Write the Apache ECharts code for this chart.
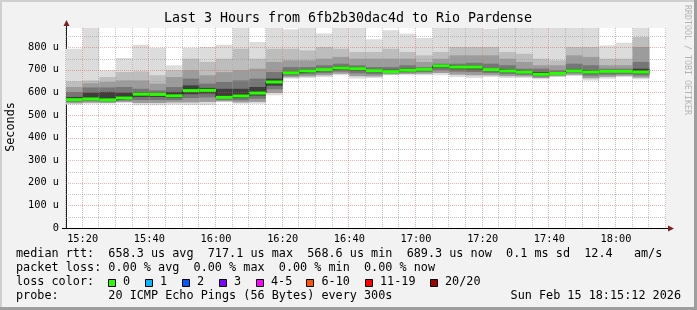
<!DOCTYPE html>
<html><head><meta charset="utf-8">
<script src="https://cdn.jsdelivr.net/npm/echarts@6/dist/echarts.min.js"></script>
<style>html,body{margin:0;padding:0;background:#f2f2f2}#c{width:697px;height:310px}</style>
</head><body><div id="c"></div><script>
// 5-minute slots (start times)
const slots = ['15:15','15:20','15:25','15:30','15:35','15:40','15:45','15:50','15:55','16:00','16:05','16:10','16:15','16:20','16:25','16:30','16:35','16:40','16:45','16:50','16:55','17:00','17:05','17:10','17:15','17:20','17:25','17:30','17:35','17:40','17:45','17:50','17:55','18:00','18:05'];
// values in microseconds
const maxV   = [793,885,698,752,811,796,720,796,801,811,885,823,885,879,885,861,885,885,835,875,860,841,885,885,885,882,885,885,885,885,885,885,808,820,885];
const up1    = [649,653,668,690,693,676,698,749,735,749,793,749,793,793,786,801,793,779,779,793,779,764,779,801,801,801,779,771,749,742,801,801,749,749,845];
const up2    = [624,641,646,653,653,639,668,698,676,690,698,705,735,742,742,749,757,749,749,749,749,735,749,764,764,764,749,735,720,720,764,757,720,720,801];
const up3    = [602,622,622,624,616,609,624,661,639,646,653,661,690,712,712,720,727,720,712,712,720,712,727,727,731,727,720,705,705,698,727,720,705,705,735];
const up4    = [580,599,602,599,600,598,602,631,620,616,616,624,661,695,702,708,715,712,702,700,705,706,722,718,718,708,702,696,690,690,702,698,698,698,705];
const median = [568,571,567,575,592,591,585,608,609,578,584,597,646,687,695,701,708,705,696,692,698,702,717,712,712,701,695,690,680,684,695,690,693,693,690];
const lo3    = [563,566,563,570,580,580,576,592,595,572,575,586,630,681,688,694,701,696,689,689,693,697,708,703,702,694,689,685,675,681,690,683,686,687,683];
const lo2    = [558,561,559,564,566,566,566,575,578,567,565,572,614,674,680,685,692,684,680,685,688,690,698,692,690,686,681,678,670,677,685,674,678,680,675];
const lo1    = [552,555,554,558,553,553,556,556,558,561,556,558,598,667,671,676,683,672,671,680,682,683,686,679,676,676,672,671,664,672,678,663,669,674,666];
const minV   = [546,550,550,553,543,543,546,544,544,557,550,550,587,661,664,668,676,661,664,676,676,676,676,668,664,668,664,664,658,668,672,653,661,668,658];
const xTickLabels = ['15:20','15:40','16:00','16:20','16:40','17:00','17:20','17:40','18:00'];
const yTickLabels = ['0','100 u','200 u','300 u','400 u','500 u','600 u','700 u','800 u'];
const lossLabels = ['0','1','2','3','4-5','6-10','11-19','20/20'];
const lossColors = ['#26ff00','#00b8ff','#0059ff','#7e00ff','#ff00ff','#ff5500','#ff0000','#a10000'];

const SLOT = 5;
const toMin = s => { const [h,m] = s.split(':').map(Number); return (h-15)*60+m; };
const xs = slots.map(toMin);
const FONT = 'DejaVu Sans Mono';
const X_MIN = 15, X_MAX = 195, Y_MAX = 885;

function smokeSeries(lo, hi, color, z){
  return {
    type:'custom', z:z, silent:true, animation:false,
    renderItem:(params, api)=>{
      const x0 = api.value(0), a = api.value(1), b = api.value(2);
      const p0 = api.coord([x0, b]), p1 = api.coord([x0+SLOT, a]);
      const r = echarts.graphic.clipRectByRect({x:p0[0], y:p0[1], width:p1[0]-p0[0], height:p1[1]-p0[1]}, params.coordSys);
      return r && {type:'rect', shape:r, style:{fill:color}};
    },
    data: xs.map((x,i)=>[x, lo[i], hi[i]])
  };
}

const GRID_MINOR = 'rgba(143,143,143,0.5)';
const GRID_MAJOR = 'rgba(222,79,79,0.45)';
const gridSeries = {
  type:'custom', z:2, silent:true, animation:false,
  renderItem:(params, api)=>{
    if (params.dataIndex !== 0) return null;
    const cs = params.coordSys;
    const children = [];
    for (let v = X_MIN; v <= X_MAX; v += 5) {
      const x = Math.round(api.coord([v, 0])[0]) - 0.5;
      children.push({type:'line', shape:{x1:x, y1:cs.y, x2:x, y2:cs.y+cs.height}, style:{stroke: v % 20 === 0 ? GRID_MAJOR : GRID_MINOR, lineWidth:1, lineDash:[1,1]}});
    }
    for (let v = 50; v < Y_MAX; v += 50) {
      const y = Math.round(api.coord([X_MIN, v])[1]) + 0.5;
      children.push({type:'line', shape:{x1:cs.x, y1:y, x2:cs.x+cs.width, y2:y}, style:{stroke: v % 100 === 0 ? GRID_MAJOR : GRID_MINOR, lineWidth:1, lineDash:[1,1]}});
    }
    return {type:'group', children:children};
  },
  data:[[X_MIN, 0]]
};

const stepData = xs.map((x,i)=>[x, median[i]]);
stepData.push([xs[xs.length-1]+SLOT, median[median.length-1]]);

const chart = echarts.init(document.getElementById('c'), null, {renderer:'canvas'});
const txt = (x, y, text, opts={}) => Object.assign({type:'text', x:x, y:y, silent:true, style:Object.assign({text:text, fill:'#000', font:'11.8px "'+FONT+'"', textAlign:'left', textVerticalAlign:'middle'}, opts.style||{})}, opts.el||{});

const graphics = [
  {type:'rect', shape:{x:0,y:0,width:697,height:2}, style:{fill:'#cfcfcf'}, silent:true},
  {type:'rect', shape:{x:0,y:0,width:2,height:310}, style:{fill:'#cfcfcf'}, silent:true},
  {type:'rect', shape:{x:694,y:0,width:3,height:310}, style:{fill:'#9e9e9e'}, silent:true},
  {type:'rect', shape:{x:0,y:307,width:697,height:3}, style:{fill:'#9e9e9e'}, silent:true},
  {type:'line', shape:{x1:62,y1:228.5,x2:66,y2:228.5}, style:{stroke:'#000',lineWidth:1}, silent:true},
  {type:'line', shape:{x1:666,y1:228.5,x2:669,y2:228.5}, style:{stroke:'#000',lineWidth:1}, silent:true},
  {type:'line', shape:{x1:66.5,y1:28,x2:66.5,y2:24}, style:{stroke:'#1f1f1f',lineWidth:1}, silent:true},
  {type:'polygon', shape:{points:[[63.5,26],[69.5,26],[66.5,20]]}, style:{fill:'#801f1f'}, silent:true},
  {type:'polygon', shape:{points:[[668,225.5],[668,231.5],[674,228.5]]}, style:{fill:'#801f1f'}, silent:true},
  txt(348, 19, 'Last 3 Hours from 6fb2b30dac4d to Rio Pardense', {style:{textAlign:'center', font:'13.3px "'+FONT+'"'}}),
  txt(11, 127, 'Seconds', {style:{textAlign:'center'}, el:{rotation:Math.PI/2}}),
  txt(687, 5, 'RRDTOOL / TOBI OETIKER', {style:{textAlign:'left', fill:'#b4b4b4', font:'8.3px "'+FONT+'"'}, el:{rotation:-Math.PI/2}}),
  txt(16, 254, 'median rtt:  658.3 us avg  717.1 us max  568.6 us min  689.3 us now  0.1 ms sd  12.4   am/s'),
  txt(16, 268, 'packet loss: 0.00 % avg  0.00 % max  0.00 % min  0.00 % now'),
  txt(16, 282, 'loss color:'),
  txt(16, 296, 'probe:       20 ICMP Echo Pings (56 Bytes) every 300s'),
  txt(681, 296, 'Sun Feb 15 18:15:12 2026', {style:{textAlign:'right'}})
];
const sqX = [108.5,145.5,182.5,219.5,256.5,306.5,365.5,430.5];
const lbX = [123,160,197,234,271,321.5,380,445];
lossLabels.forEach((l,i)=>{
  graphics.push({type:'rect', shape:{x:sqX[i], y:279.5, width:7, height:7}, style:{fill:lossColors[i], stroke:'#000', lineWidth:1}, silent:true});
  graphics.push(txt(lbX[i], 282, l));
});

chart.setOption({
  backgroundColor:'#f2f2f2',
  animation:false,
  grid:{left:66, right:31, top:28, bottom:82, show:true, backgroundColor:'#ffffff', borderWidth:0},
  xAxis:{type:'value', min:X_MIN, max:X_MAX, interval:5,
    axisLine:{show:true, onZero:false, lineStyle:{color:'#000', width:1}},
    axisTick:{show:false}, splitLine:{show:false},
    axisLabel:{margin:6, color:'#000', fontFamily:FONT, fontSize:10.3,
      formatter:v => v % 20 === 0 ? (xTickLabels[v/20 - 1] || '') : ''}},
  yAxis:{type:'value', min:0, max:Y_MAX, interval:50,
    axisLine:{show:true, lineStyle:{color:'#1f1f1f', width:1}},
    axisTick:{show:false}, splitLine:{show:false},
    axisLabel:{margin:7, color:'#000', fontFamily:FONT, fontSize:10.3,
      formatter:v => v % 100 === 0 ? (yTickLabels[v/100] || '') : ''}},
  graphic: graphics,
  series:[
    smokeSeries(minV, maxV, '#dcdcdc', 1),
    smokeSeries(lo1, up1, '#bdbdbd', 1),
    smokeSeries(lo1, up2, '#9c9c9c', 1),
    smokeSeries(lo2, up3, '#767676', 1),
    smokeSeries(lo3, up4, '#3e3e3e', 1),
    gridSeries,
    {type:'line', z:3, step:'end', data:stepData, symbol:'none', silent:true, animation:false,
      lineStyle:{color:'#202020', width:1}},
    {type:'custom', z:4, silent:true, animation:false,
      renderItem:(params, api)=>{
        const x0 = api.value(0), m = api.value(1);
        const p0 = api.coord([x0, m]), p1 = api.coord([x0+SLOT, m]);
        return {type:'rect', shape:{x:p0[0], y:p0[1]-1.5, width:p1[0]-p0[0], height:3}, style:{fill:lossColors[0]}};
      },
      data: xs.map((x,i)=>[x, median[i]])}
  ]
});
</script></body></html>
